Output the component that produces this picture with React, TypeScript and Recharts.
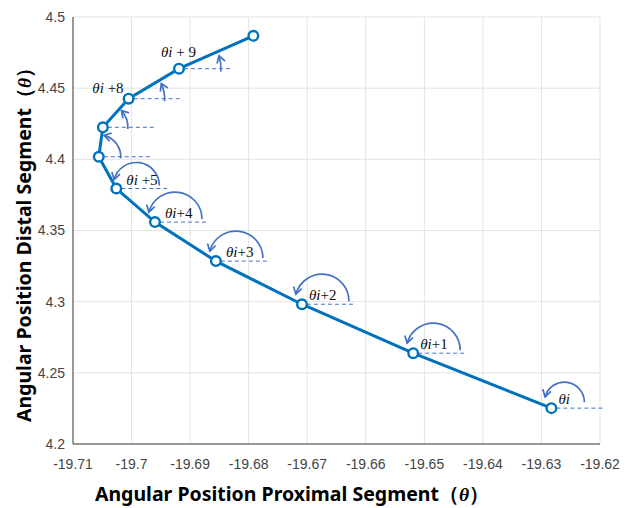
import React from 'react';
import { LineChart, Line, XAxis, YAxis, CartesianGrid } from 'recharts';

// successive joint positions (first point = θi)
const proximal = [-19.6283, -19.6519, -19.6709, -19.6856, -19.696, -19.7026, -19.7056, -19.7049, -19.7005, -19.6919, -19.6792];
const distal = [4.2252, 4.2638, 4.2982, 4.3285, 4.3559, 4.3795, 4.4018, 4.4225, 4.4426, 4.4637, 4.4868];
const stepLabels = ['θi', 'θi+1', 'θi+2', 'θi+3', 'θi+4', 'θi +5', '', '', 'θi +8', 'θi + 9', ''];

const xTicks = [-19.71, -19.7, -19.69, -19.68, -19.67, -19.66, -19.65, -19.64, -19.63, -19.62];
const yTicks = [4.2, 4.25, 4.3, 4.35, 4.4, 4.45, 4.5];

const data = proximal.map((x, i) => ({ x, y: distal[i], label: stepLabels[i] }));

const LINE = '#0072bd';
const ANNO = '#4472c4';
const AXIS = '#404040';
const TICK_FONT = { fontFamily: 'Liberation Sans, Arial, sans-serif', fontSize: 14, fill: '#444' };
const TITLE_FONT = 'Noto Sans, Open Sans, sans-serif';

const rad = (d: number) => (d * Math.PI) / 180;

// open arrow head at (tx,ty) for travel direction (dx,dy)
const arrowHead = (tx: number, ty: number, dx: number, dy: number) => {
  const len = 8;
  const a = 0.55;
  const bx = -dx;
  const by = -dy;
  const r1 = [bx * Math.cos(a) - by * Math.sin(a), bx * Math.sin(a) + by * Math.cos(a)];
  const r2 = [bx * Math.cos(-a) - by * Math.sin(-a), bx * Math.sin(-a) + by * Math.cos(-a)];
  return `M${tx + r1[0] * len},${ty + r1[1] * len} L${tx},${ty} L${tx + r2[0] * len},${ty + r2[1] * len}`;
};

// counter-clockwise arc (screen view) from a0 to a1 degrees, with arrow at the end
const arcWithArrow = (ox: number, oy: number, r: number, a0: number, a1: number) => {
  const sx = ox + r * Math.cos(rad(a0));
  const sy = oy - r * Math.sin(rad(a0));
  const ex = ox + r * Math.cos(rad(a1));
  const ey = oy - r * Math.sin(rad(a1));
  const large = a1 - a0 > 180 ? 1 : 0;
  const arc = `M${sx},${sy} A${r},${r} 0 ${large} 0 ${ex},${ey}`;
  const head = arrowHead(ex, ey, -Math.sin(rad(a1)), -Math.cos(rad(a1)));
  return (
    <>
      <path d={arc} fill="none" stroke={ANNO} strokeWidth={1.7} />
      <path d={head} fill="none" stroke={ANNO} strokeWidth={1.7} />
    </>
  );
};

const StepLabel = ({ x, y, text, anchor }: any) => {
  if (!text) return null;
  const rest = text.slice(2);
  return (
    <text x={x} y={y} textAnchor={anchor} fontFamily="Liberation Serif, DejaVu Serif, serif" fontSize={15} fill="#111">
      <tspan fontStyle="italic">θi</tspan>
      <tspan>{rest}</tspan>
    </text>
  );
};

const StepDot = (props: any) => {
  const { cx, cy, index, points, payload } = props;
  if (cx == null || cy == null) return null;
  const last = index === data.length - 1;
  let anno = null;

  if (!last) {
    let segAngle = 60;
    const next = points && points[index + 1];
    if (next) segAngle = (Math.atan2(-(next.y - cy), next.x - cx) * 180) / Math.PI;

    let arc;
    let lbl;
    if (index <= 5) {
      const r = index === 0 ? 20 : index === 5 ? 23 : 27;
      const ox = cx + (index === 0 ? 13 : 20);
      const oy = cy - (index === 0 ? 6 : 3);
      arc = arcWithArrow(ox, oy, r, 0, 165);
      lbl = <StepLabel x={cx + (index < 3 ? 7 : 10)} y={cy - 4} text={payload.label} anchor="start" />;
    } else {
      const r = [22, 25, 36, 42][index - 6];
      arc = arcWithArrow(cx, cy, r, -4, segAngle - 6);
      if (index === 8) lbl = <StepLabel x={cx - 5} y={cy - 6} text={payload.label} anchor="end" />;
      if (index === 9) lbl = <StepLabel x={cx - 18} y={cy - 12} text={payload.label} anchor="start" />;
    }
    anno = (
      <>
        <line x1={cx + 5} y1={cy} x2={cx + 53} y2={cy} stroke={ANNO} strokeWidth={1} strokeDasharray="4 3" />
        {arc}
        {lbl}
      </>
    );
  }

  return (
    <g key={`step-${index}`}>
      {anno}
      <circle cx={cx} cy={cy} r={4.8} fill="#fff" stroke={LINE} strokeWidth={2.4} />
    </g>
  );
};

const XTitle = () => (
  <text x={292} y={501} textAnchor="middle" fontFamily={TITLE_FONT} fontWeight="bold" fontSize={19.5} fill="#000">
    Angular Position Proximal Segment（
    <tspan fontFamily="Liberation Serif, serif" fontStyle="italic">θ</tspan>）
  </text>
);

const YTitle = () => (
  <text
    x={0}
    y={0}
    transform="translate(31,240) rotate(-90)"
    textAnchor="middle"
    fontFamily={TITLE_FONT}
    fontWeight="bold"
    fontSize={19.5}
    fill="#000"
  >
    Angular Position Distal Segment（
    <tspan fontFamily="Liberation Serif, serif" fontStyle="italic">θ</tspan>）
  </text>
);

export default function App() {
  return (
    <div style={{ position: 'absolute', left: 0, top: 0, background: '#fff' }}>
      <LineChart width={625} height={508} data={data} margin={{ top: 17, right: 25, bottom: 34, left: 13 }}>
        <CartesianGrid stroke="#e3e3e3" strokeWidth={1} />
        <XAxis
          type="number"
          dataKey="x"
          domain={[-19.71, -19.62]}
          ticks={xTicks}
          height={30}
          tickLine={false}
          tickMargin={9}
          axisLine={{ stroke: AXIS }}
          tick={TICK_FONT}
          label={{ content: () => <XTitle /> }}
        />
        <XAxis xAxisId="btm" type="number" domain={[-19.71, -19.62]} ticks={xTicks} orientation="bottom" mirror height={0} axisLine={false} tick={false} tickSize={5} stroke={AXIS} />
        <XAxis xAxisId="top" type="number" domain={[-19.71, -19.62]} ticks={xTicks} orientation="top" mirror height={0} axisLine={{ stroke: AXIS }} tick={false} tickSize={5} stroke={AXIS} />
        <YAxis
          type="number"
          dataKey="y"
          domain={[4.2, 4.5]}
          ticks={yTicks}
          width={60}
          tickLine={false}
          axisLine={{ stroke: AXIS }}
          tick={TICK_FONT}
          label={{ content: () => <YTitle /> }}
        />
        <YAxis yAxisId="lft" type="number" domain={[4.2, 4.5]} ticks={yTicks} orientation="left" mirror width={0} axisLine={false} tick={false} tickSize={5} stroke={AXIS} />
        <YAxis yAxisId="rgt" type="number" domain={[4.2, 4.5]} ticks={yTicks} orientation="right" mirror width={0} axisLine={{ stroke: AXIS }} tick={false} tickSize={5} stroke={AXIS} />
        <Line
          type="linear"
          dataKey="y"
          stroke={LINE}
          strokeWidth={3}
          dot={StepDot}
          activeDot={false}
          isAnimationActive={false}
        />
      </LineChart>
    </div>
  );
}
